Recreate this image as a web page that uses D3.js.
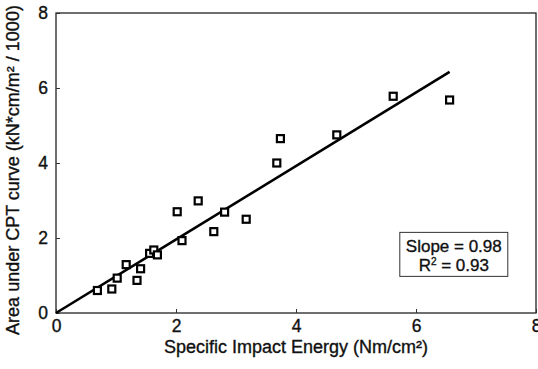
<!DOCTYPE html>
<html>
<head>
<meta charset="utf-8">
<script src="https://cdn.jsdelivr.net/npm/d3@7"></script>
<style>
  body { margin: 0; background: #fff; }
  text { font-family: "Liberation Sans", Arial, sans-serif; fill: #111; stroke: #111; stroke-width: 0.35px; }
</style>
</head>
<body>
<div id="chart"></div>
<script>
// data
var energy = [0.69, 0.93, 1.02, 1.17, 1.35, 1.41, 1.56, 1.63, 1.69, 2.02, 2.10, 2.37, 2.63, 2.81, 3.17, 3.68, 3.74, 4.68, 5.62, 6.56];
var area   = [0.60, 0.64, 0.93, 1.29, 0.87, 1.18, 1.59, 1.68, 1.55, 2.70, 1.93, 2.99, 2.17, 2.69, 2.50, 4.00, 4.65, 4.75, 5.78, 5.68];
var ticks = [0, 2, 4, 6, 8];
var slope = 0.98, r2 = 0.93;
var fitRange = [0, 6.56];

var margin = { top: 13, right: 2, bottom: 56, left: 56 };
var width = 538 - margin.left - margin.right,
    height = 369 - margin.top - margin.bottom;

var svg = d3.select("#chart").append("svg")
    .attr("width", 538)
    .attr("height", 369)
  .append("g")
    .attr("transform", "translate(" + margin.left + "," + margin.top + ")");

var x = d3.scaleLinear().domain([0, 8]).range([0, width]);
var y = d3.scaleLinear().domain([0, 8]).range([height, 0]);

// frame
svg.append("rect")
    .attr("width", width)
    .attr("height", height)
    .attr("fill", "none")
    .attr("stroke", "#222")
    .attr("stroke-width", 1.3);

// axes, ticks pointing inward
var xAxis = d3.axisBottom(x).tickValues(ticks).tickSizeInner(-4).tickSizeOuter(0).tickPadding(7);
var yAxis = d3.axisLeft(y).tickValues(ticks).tickSizeInner(-4).tickSizeOuter(0).tickPadding(8);

var gx = svg.append("g")
    .attr("transform", "translate(0," + height + ")")
    .call(xAxis);
var gy = svg.append("g").call(yAxis);

[gx, gy].forEach(function(g) {
    g.select(".domain").remove();
    g.selectAll(".tick line").attr("stroke", "#333");
    g.selectAll(".tick text")
        .attr("font-size", "17.5px")
        .attr("font-family", "Liberation Sans, Arial, sans-serif")
        .attr("fill", "#111");
});
gx.selectAll(".tick text").attr("dy", "0.71em");

// regression line
svg.append("line")
    .attr("x1", x(fitRange[0]))
    .attr("y1", y(fitRange[0] * slope))
    .attr("x2", x(fitRange[1]))
    .attr("y2", y(fitRange[1] * slope))
    .attr("stroke", "#000")
    .attr("stroke-width", 2.6);

// points
var pts = energy.map(function(d, i) { return { x: d, y: area[i] }; });
svg.selectAll("rect.pt")
    .data(pts)
    .enter()
    .append("rect")
    .attr("class", "pt")
    .attr("x", function(d) { return x(d.x) - 3.5; })
    .attr("y", function(d) { return y(d.y) - 3.5; })
    .attr("width", 7)
    .attr("height", 7)
    .attr("fill", "#fff")
    .attr("stroke", "#000")
    .attr("stroke-width", 2.2);

// stats box
var box = svg.append("g").attr("transform", "translate(" + (x(5.73)) + "," + (y(2.15)) + ")");
box.append("rect")
    .attr("width", 108)
    .attr("height", 44)
    .attr("fill", "#fff")
    .attr("stroke", "#333")
    .attr("stroke-width", 1);
box.append("text")
    .attr("x", 54).attr("y", 20)
    .attr("text-anchor", "middle")
    .attr("font-size", "17px")
    .text("Slope = " + slope.toFixed(2));
var t2 = box.append("text")
    .attr("x", 54).attr("y", 39)
    .attr("text-anchor", "middle")
    .attr("font-size", "17px");
t2.append("tspan").text("R");
t2.append("tspan").attr("font-size", "10px").attr("dy", "-6").text("2");
t2.append("tspan").attr("dy", "6").text(" = " + r2.toFixed(2));

// axis titles
svg.append("text")
    .attr("x", x(4))
    .attr("y", height + 40)
    .attr("text-anchor", "middle")
    .attr("font-size", "18px")
    .text("Specific Impact Energy (Nm/cm²)");

svg.append("text")
    .attr("transform", "translate(-37," + (height / 2 + 7) + ") rotate(-90)")
    .attr("text-anchor", "middle")
    .attr("font-size", "18px")
    .text("Area under CPT curve (kN*cm/m² / 1000)");
</script>
</body>
</html>
